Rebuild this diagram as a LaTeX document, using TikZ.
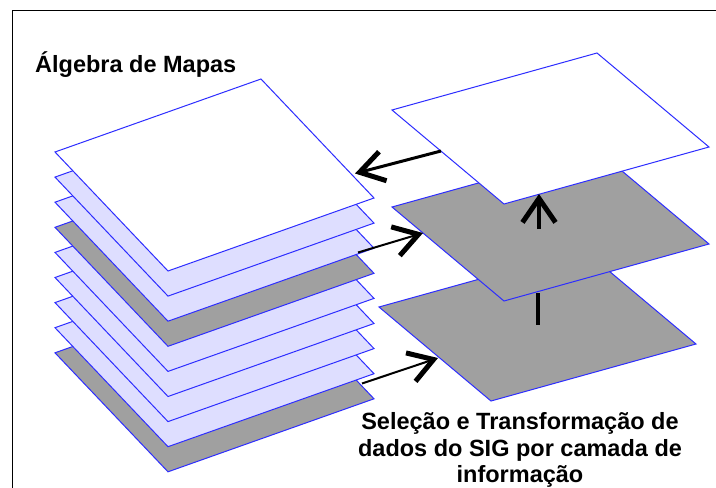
\documentclass[tikz,border=0pt]{standalone}
\usepackage{fontspec}
\setmainfont{Liberation Sans}
\usetikzlibrary{arrows.meta}
\definecolor{edgeblue}{RGB}{45,45,255}
\definecolor{lav}{RGB}{222,222,255}
\definecolor{lgray}{RGB}{160,160,160}
\tikzset{
  layer/.style={draw=edgeblue, line width=1pt, line join=miter},
  barb/.style={-{Straight Barb[length=24pt, width=30pt, line width=5pt]}},
  lbl/.style={font=\bfseries\fontsize{23.5}{26}\selectfont, inner sep=0pt, anchor=base}
}
\begin{document}
\begin{tikzpicture}[x=1pt, y=-1pt]
\useasboundingbox (0,0) rectangle (716,488);
\fill[white] (0,0) rectangle (716,488);
% frame (top and left sides visible)
\draw[line width=1.4pt] (12.7,490) -- (12.7,10.7) -- (718,10.7);

% left stack: 9 layers, top = 0
\foreach \i/\c in {8/lgray,7/lav,6/lav,5/lav,4/lav,3/lgray,2/lav,1/lav,0/white}{
  \filldraw[layer, fill=\c] (55,152+25.1*\i) -- ++(206,-73) -- ++(113,119) -- ++(-206,73) -- cycle;
}
% right stack
\filldraw[layer, fill=lgray] (379,307) -- ++(205,-57) -- ++(112,94) -- ++(-205,57) -- cycle;
\filldraw[layer, fill=lgray] (392,207) -- ++(205,-57) -- ++(112,94) -- ++(-205,57) -- cycle;
\filldraw[layer, fill=white] (392,110) -- ++(205,-57) -- ++(112,94) -- ++(-205,57) -- cycle;

% connector end points
\coordinate (a1s) at (441,151);
\coordinate (a1e) at (355,173.5);
\coordinate (a2s) at (358,252.5);
\coordinate (a2e) at (423,233);
\coordinate (a3s) at (362,383.5);
\coordinate (a3e) at (438,358);
\coordinate (a4s) at (539,229);
\coordinate (a4e) at (539,194);
\coordinate (l5s) at (537.5,293);
\coordinate (l5e) at (537.5,325);

\draw[barb, line width=3pt] (a1s) -- (a1e);
\draw[barb, line width=2pt] (a2s) -- (a2e);
\draw[barb, line width=2pt] (a3s) -- (a3e);
\draw[-{Straight Barb[length=24pt, width=33pt, line width=5pt]}, line width=4pt] (a4s) -- (a4e);
\draw[line width=4pt] (l5s) -- (l5e);

% texts
\node[lbl, anchor=base west] (title) at (35,72) {Álgebra de Mapas};
\node[lbl] (cap1) at (520,429.5) {Seleção e Transformação de};
\node[lbl] (cap2) at (520,456) {dados do SIG por camada de};
\node[lbl] (cap3) at (520,482.5) {informação};
\end{tikzpicture}
\end{document}
